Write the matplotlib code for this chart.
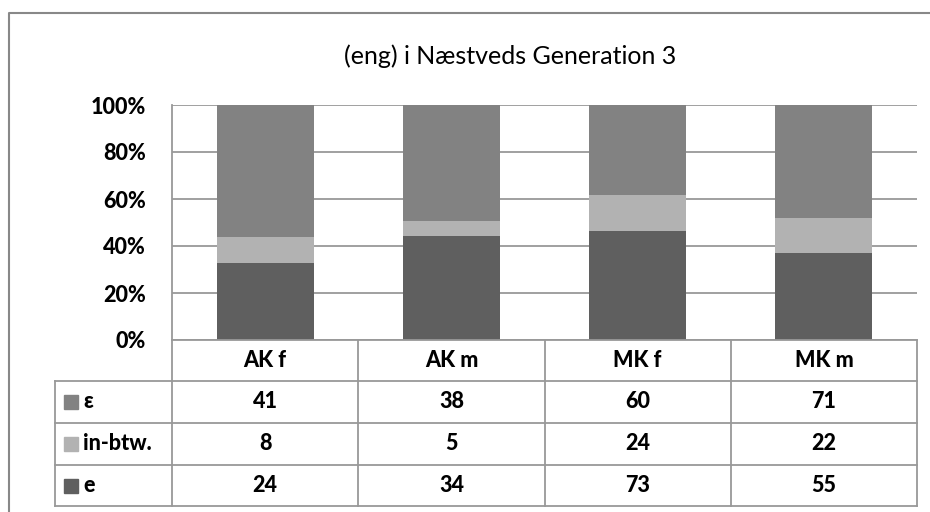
import numpy as np
import matplotlib.pyplot as plt
from matplotlib.patches import Rectangle

plt.rcParams['font.family'] = ['Lato', 'DejaVu Sans']

categories = ["AK f", "AK m", "MK f", "MK m"]
series = ["ε", "in-btw.", "e"]
eps = [41, 38, 60, 71]
inbtw = [8, 5, 24, 22]
e_vals = [24, 34, 73, 55]

colors = {"e": "#5f5f5f", "in-btw.": "#b2b2b2", "ε": "#828282"}
line_c = "#999999"
fw = "black"
fs = 15.5

W, H = 930, 512
fig = plt.figure(figsize=(W / 100, H / 100), dpi=100)

# pixel layout of plot area
px_left, px_right = 172, 917
px_top, px_bottom = 105, 340
ax = fig.add_axes([px_left / W, 1 - px_bottom / H,
                   (px_right - px_left) / W, (px_bottom - px_top) / H])

vals = np.array([e_vals, inbtw, eps], dtype=float)
pct = vals / vals.sum(axis=0) * 100
x = np.arange(len(categories))
bottom = np.zeros(len(categories))
for name, row in zip(["e", "in-btw.", "ε"], pct):
    ax.bar(x, row, bottom=bottom, width=0.52, color=colors[name], zorder=2)
    bottom += row

ax.set_xlim(-0.5, len(categories) - 0.5)
ax.set_ylim(0, 100)
ax.set_yticks(np.arange(0, 101, 20))
ax.set_yticklabels([f"{v}%" for v in range(0, 101, 20)],
                   fontsize=fs, fontweight=fw)
ax.yaxis.grid(True, color=line_c, lw=1.3, zorder=0)
ax.set_xticks([])
ax.tick_params(axis="y", length=0, pad=19)
for s in ["top", "right", "bottom"]:
    ax.spines[s].set_visible(False)
ax.spines["left"].set_color(line_c)
ax.spines["left"].set_linewidth(1.3)

# data table drawn in pixel coordinates on an overlay
ov = fig.add_axes([0, 0, 1, 1], zorder=5)
ov.set_xlim(0, W)
ov.set_ylim(H, 0)
ov.axis("off")
ov.patch.set_alpha(0)

col_w = (px_right - px_left) / len(categories)
col_edges = [px_left + i * col_w for i in range(len(categories) + 1)]
row_edges = [px_bottom, 381, 423, 465, 506]
tbl_left = 55
lw = 1.3

ov.plot([px_left, px_right], [row_edges[0]] * 2, color=line_c, lw=lw)
for yy in row_edges[1:]:
    ov.plot([tbl_left, px_right], [yy, yy], color=line_c, lw=lw)
ov.plot([tbl_left, tbl_left], [row_edges[1], row_edges[-1]], color=line_c, lw=lw)
ov.plot([px_left, px_left], [px_bottom, row_edges[-1]], color=line_c, lw=lw)
for xx in col_edges[1:]:
    ov.plot([xx, xx], [row_edges[0], row_edges[-1]], color=line_c, lw=lw)

for i, cat in enumerate(categories):
    cx = (col_edges[i] + col_edges[i + 1]) / 2
    ov.text(cx, (row_edges[0] + row_edges[1]) / 2, cat, ha="center",
            va="center", fontsize=fs, fontweight=fw)

table_rows = [("ε", eps), ("in-btw.", inbtw), ("e", e_vals)]
for r, (name, row) in enumerate(table_rows):
    cy = (row_edges[r + 1] + row_edges[r + 2]) / 2
    ov.add_patch(Rectangle((64, cy - 7), 14, 14, color=colors[name]))
    ov.text(83, cy, name, ha="left", va="center", fontsize=fs,
            fontweight=fw)
    for i, v in enumerate(row):
        cx = (col_edges[i] + col_edges[i + 1]) / 2
        ov.text(cx, cy, str(v), ha="center", va="center", fontsize=fs,
                fontweight=fw)

# outer chart frame
ov.plot([9, 9, W + 5], [H + 5, 12.5, 12.5], color="#888888", lw=1.5)

ov.text(W / 2 + 45, 56, "(eng) i Næstveds Generation 3", ha="center",
        va="center", fontsize=18)

fig.savefig("out.png", dpi=100)
